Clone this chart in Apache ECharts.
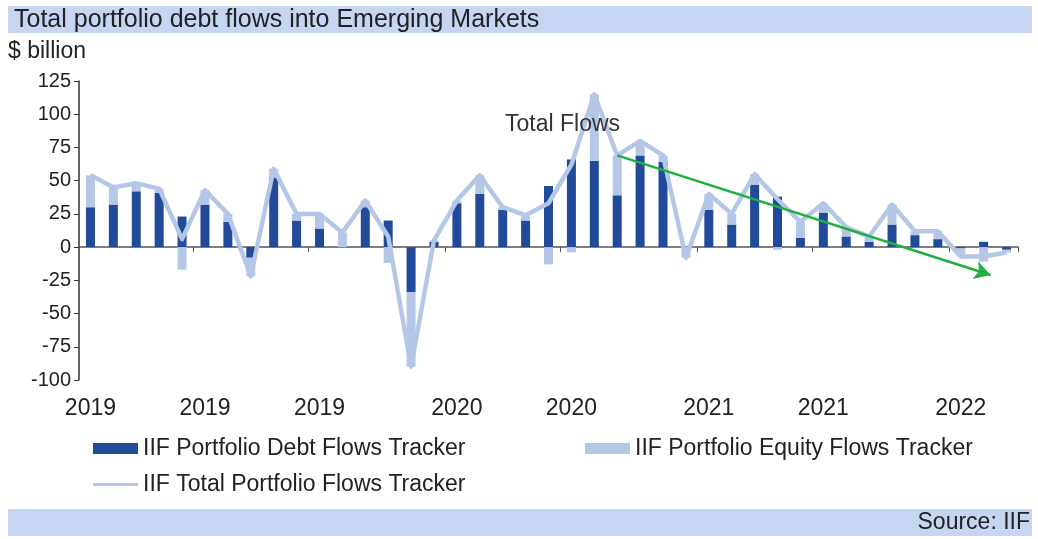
<!DOCTYPE html>
<html>
<head>
<meta charset="utf-8">
<style>
  html, body { margin: 0; padding: 0; background: #ffffff; }
  #chart { width: 1038px; height: 539px; }
</style>
<script src="https://cdn.jsdelivr.net/npm/echarts@6/dist/echarts.min.js"></script>
</head>
<body>
<div id="chart"></div>
<script>
// ---- Data (monthly, $ billion) ----
const categories = [
  '2019-01','2019-02','2019-03','2019-04','2019-05','2019-06','2019-07','2019-08','2019-09','2019-10','2019-11','2019-12',
  '2020-01','2020-02','2020-03','2020-04','2020-05','2020-06','2020-07','2020-08','2020-09','2020-10','2020-11','2020-12',
  '2021-01','2021-02','2021-03','2021-04','2021-05','2021-06','2021-07','2021-08','2021-09','2021-10','2021-11','2021-12',
  '2022-01','2022-02','2022-03','2022-04','2022-05'
];
const debtFlows = [30, 32, 42, 41, 23, 32, 19, -8, 52, 20, 14, 0,
                   30, 20, -34, 4, 33, 40, 28, 20, 46, 66, 65, 39,
                   69, 64, 0, 28, 17, 47, 38, 7, 26, 8, 4, 17,
                   9, 6, -1, 4, -2];
const equityFlows = [24, 13, 6, 3, -17, 11, 6, -14, 7, 5, 11, 11,
                     5, -12, -56, 1, 2, 14, 2, 4, -13, -4, 50, 30,
                     11, 5, -8, 12, 8, 8, -2, 12, 7, 7, 4, 15,
                     3, 6, -6, -11, -2];
const totalFlows = [54, 45, 48, 44, 6, 43, 25, -22, 59, 25, 25, 11,
                    35, 8, -90, 5, 35, 54, 30, 24, 33, 62, 115, 69,
                    80, 69, -8, 40, 25, 55, 36, 19, 33, 15, 8, 32,
                    12, 12, -7, -7, -4];
const xLabelIndices = [0, 5, 10, 16, 21, 27, 32, 38];
const yTicks = { min: -100, max: 125, step: 25 };
const trendArrow = [[23, 69], [39.3, -21]];   // [category index, value]
const seriesNames = ['IIF Portfolio Debt Flows Tracker', 'IIF Portfolio Equity Flows Tracker', 'IIF Total Portfolio Flows Tracker'];
const titleText = 'Total portfolio debt flows into Emerging Markets';
const unitText = '$ billion';
const annotationText = 'Total Flows';
const sourceText = 'Source: IIF';

// ---- Styles ----
const FONT = '"Liberation Sans", Arial, sans-serif';
const DARK = '#214a9a';
const LIGHT = '#b4c7e7';
const BAND = '#c6d5f2';
const TXT = '#222222';

const chart = echarts.init(document.getElementById('chart'), null, { renderer: 'canvas' });

const labelSet = new Set(xLabelIndices);

chart.setOption({
  animation: false,
  backgroundColor: '#ffffff',
  textStyle: { fontFamily: FONT },
  grid: { left: 79, right: 20, top: 81, bottom: 159, containLabel: false },
  graphic: [
    { type: 'rect', left: 8, top: 6, shape: { width: 1024, height: 27 }, style: { fill: BAND }, z: 0 },
    { type: 'text', left: 14, top: 8, style: { text: titleText, font: '25px ' + FONT, fill: TXT }, z: 1 },
    { type: 'text', left: 8, top: 40, style: { text: unitText, font: '23px ' + FONT, fill: TXT } },
    { type: 'text', left: 505, top: 113, style: { text: annotationText, font: '23px ' + FONT, fill: '#333333' }, z: 20 },
    { type: 'rect', left: 8, top: 509, shape: { width: 1024, height: 27 }, style: { fill: BAND }, z: 0 },
    { type: 'text', right: 8, top: 511, style: { text: sourceText, font: '23px ' + FONT, fill: TXT, align: 'right' }, z: 1 }
  ],
  legend: [
    { left: 88, top: 432, itemWidth: 45, itemHeight: 11, icon: 'rect', data: [seriesNames[0]],
      textStyle: { fontFamily: FONT, fontSize: 23, color: TXT } },
    { left: 580, top: 432, itemWidth: 45, itemHeight: 11, icon: 'rect', data: [seriesNames[1]],
      textStyle: { fontFamily: FONT, fontSize: 23, color: TXT } },
    { left: 88, top: 468, itemWidth: 45, itemHeight: 3, icon: 'rect', data: [seriesNames[2]],
      textStyle: { fontFamily: FONT, fontSize: 23, color: TXT } }
  ],
  xAxis: [
    { // labels at bottom
      type: 'category', data: categories, boundaryGap: true, position: 'bottom',
      axisLine: { show: false, onZero: false }, axisTick: { show: false },
      axisLabel: {
        interval: (i) => labelSet.has(i),
        formatter: (v) => v.slice(0, 4),
        fontFamily: FONT, fontSize: 23, color: TXT, margin: 17
      },
      splitLine: { show: false }
    },
    { // zero line with ticks
      type: 'category', data: categories, boundaryGap: true, position: 'bottom',
      axisLine: { show: true, onZero: true, lineStyle: { color: '#555555', width: 1.5 } },
      axisTick: { show: true, interval: (i) => labelSet.has(i) && i > 0, length: 5, inside: false, lineStyle: { color: '#555555' } },
      axisLabel: { show: false }, splitLine: { show: false }
    },
    { // hidden value axis for annotation arrow
      type: 'value', min: -0.5, max: categories.length - 0.5, show: false
    }
  ],
  yAxis: {
    type: 'value', min: yTicks.min, max: yTicks.max, interval: yTicks.step,
    axisLine: { show: true, onZero: false, lineStyle: { color: '#333333', width: 1.5 } },
    axisTick: { show: true, length: 5, lineStyle: { color: '#333333' } },
    axisLabel: { fontFamily: FONT, fontSize: 20, color: TXT, margin: 8 },
    splitLine: { show: false }
  },
  series: [
    { name: seriesNames[0], type: 'bar', stack: 'flows', xAxisIndex: 0, data: debtFlows,
      barWidth: 9, itemStyle: { color: DARK }, z: 2 },
    { name: seriesNames[1], type: 'bar', stack: 'flows', xAxisIndex: 0, data: equityFlows,
      barWidth: 9, itemStyle: { color: LIGHT }, z: 2 },
    { name: seriesNames[2], type: 'line', xAxisIndex: 0, data: totalFlows,
      symbol: 'none', lineStyle: { color: LIGHT, width: 4.5, join: 'round' }, itemStyle: { color: LIGHT }, z: 3 },
    { name: 'trend', type: 'line', xAxisIndex: 2, data: trendArrow, symbol: 'none',
      lineStyle: { width: 0, opacity: 0 }, silent: true, z: 5,
      markLine: {
        silent: true, symbol: ['none', 'arrow'], symbolSize: [14, 16],
        label: { show: false },
        lineStyle: { color: '#1fb040', width: 2.5, type: 'solid' },
        data: [[{ coord: trendArrow[0] }, { coord: trendArrow[1] }]]
      }
    }
  ]
});
</script>
</body>
</html>
